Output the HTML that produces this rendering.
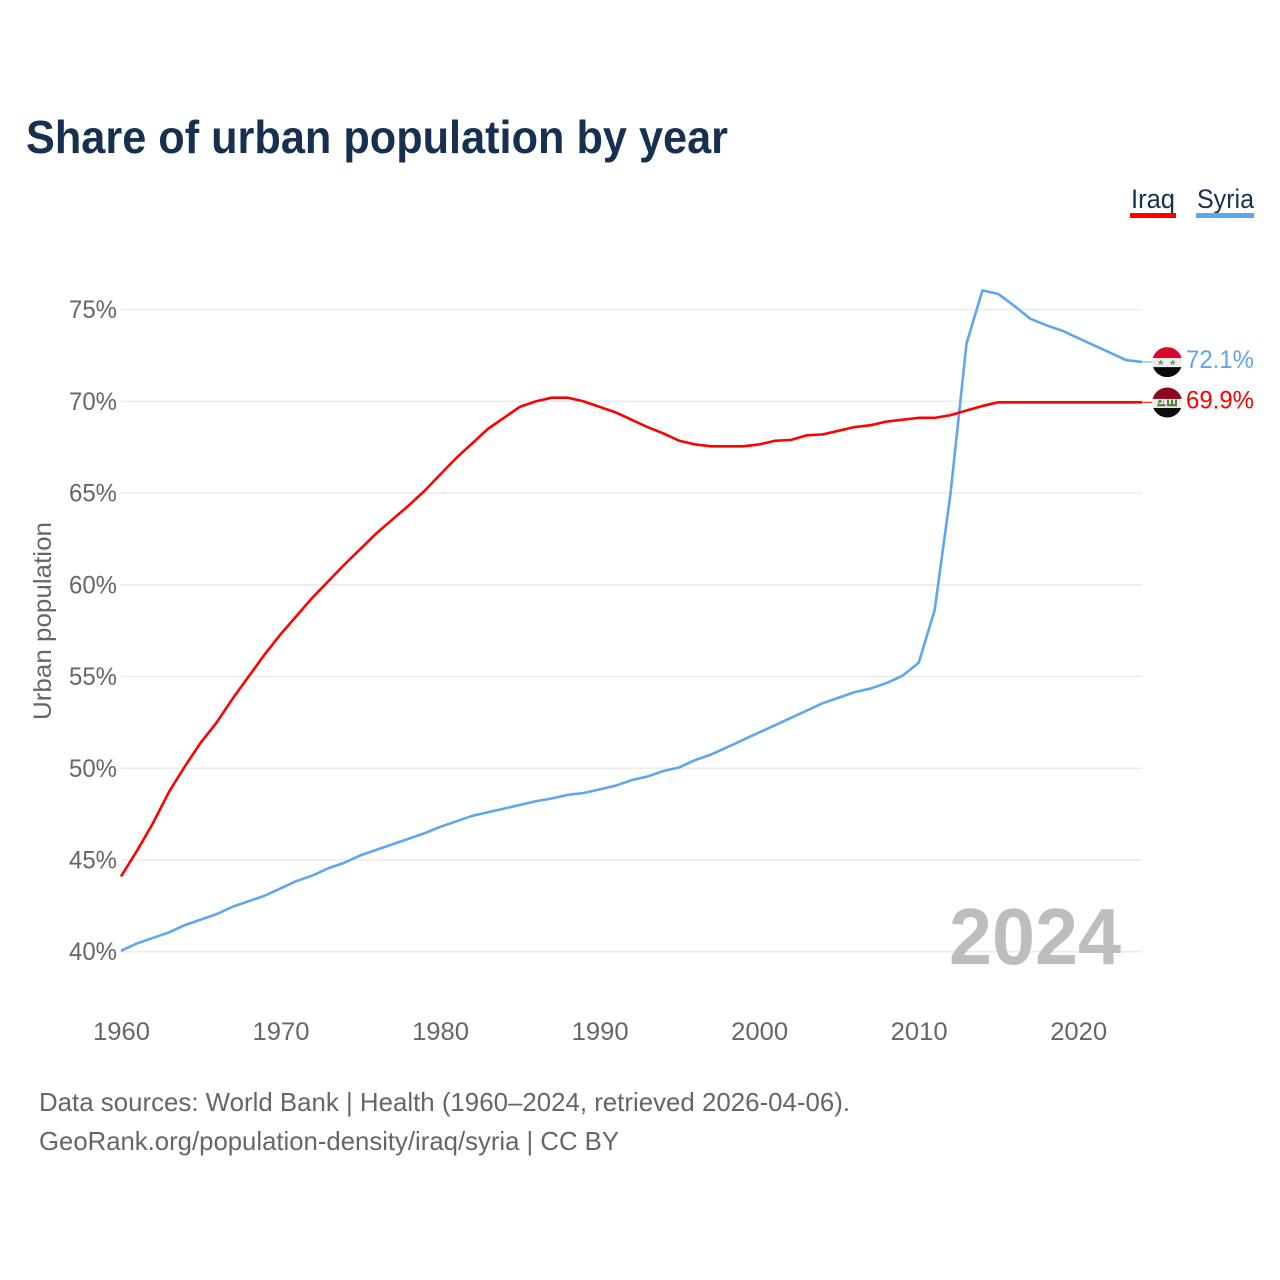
<!DOCTYPE html>
<html lang="en">
<head>
<meta charset="utf-8">
<title>Share of urban population by year</title>
<style>
html,body{margin:0;padding:0;background:#fff;}
svg{display:block;font-family:"Liberation Sans",sans-serif;}
</style>
</head>
<body>
<svg id="chart" xmlns="http://www.w3.org/2000/svg" width="1280" height="1280" viewBox="0 0 1280 1280">
  <defs>
    <clipPath id="flag-clip"><circle cx="0" cy="0" r="15"/></clipPath>
  </defs>
  <rect width="1280" height="1280" fill="#fff"/>
  <text x="26" y="153" font-size="46" font-weight="700" fill="#17304f" textLength="702" lengthAdjust="spacingAndGlyphs">Share of urban population by year</text>

  <g>
    <g>
      <text x="1131" y="208" font-size="27" fill="#17304f" textLength="44" lengthAdjust="spacingAndGlyphs">Iraq</text>
      <rect x="1130" y="213" width="46" height="5" fill="#ff0000"/>
    </g>
    <g>
      <text x="1197" y="208" font-size="27" fill="#17304f" textLength="57" lengthAdjust="spacingAndGlyphs">Syria</text>
      <rect x="1196" y="213" width="58" height="5" fill="#60a5ee"/>
    </g>
  </g>

  <g id="grid"></g>
  <g id="y-ticks"></g>
  <g id="x-ticks"></g>

  <text transform="translate(51,621) rotate(-90)" text-anchor="middle" font-size="25" fill="#666" textLength="198" lengthAdjust="spacingAndGlyphs">Urban population</text>

  <text x="949" y="964" font-size="80" font-weight="700" fill="#bdbdbd" textLength="172" lengthAdjust="spacingAndGlyphs">2024</text>

  <g id="series"></g>

  <g id="flag-syria" clip-path="url(#flag-clip)">
    <rect x="-15" y="-15" width="30" height="11" fill="#d9082b"/>
    <rect x="-15" y="-4" width="30" height="9" fill="#eeeeee"/>
    <rect x="-15" y="5" width="30" height="10" fill="#0a0a0a"/>
    <polygon points="-6.5,-3 -5.6,-0.6 -3.2,-0.6 -5.1,0.9 -4.4,3.2 -6.5,1.8 -8.6,3.2 -7.9,0.9 -9.8,-0.6 -7.4,-0.6" fill="#6f9a5c"/>
    <polygon points="5.5,-3 6.4,-0.6 8.8,-0.6 6.9,0.9 7.6,3.2 5.5,1.8 3.4,3.2 4.1,0.9 2.2,-0.6 4.6,-0.6" fill="#6f9a5c"/>
  </g>
  <g id="flag-iraq" clip-path="url(#flag-clip)">
    <rect x="-15" y="-15" width="30" height="11.5" fill="#8f0a20"/>
    <rect x="-15" y="-3.5" width="30" height="9" fill="#eeeeee"/>
    <rect x="-15" y="5.5" width="30" height="10" fill="#0a0a0a"/>
    <path d="M-10 3.5H-2V2H-8.5V0H-6V-2H-8.5M-3.5 2V-2.5M0 3.5H9.5V-2.5H8V2H5.5V-2.5H4V2H1.5V-2.5H0Z" fill="#4f7f3c" stroke="#4f7f3c" stroke-width="0.6"/>
  </g>

  <g id="end-labels"></g>

  <g>
    <text x="39" y="1111" font-size="26" fill="#666" textLength="811" lengthAdjust="spacingAndGlyphs">Data sources: World Bank | Health (1960–2024, retrieved 2026-04-06).</text>
    <text x="39" y="1150" font-size="26" fill="#666" textLength="580" lengthAdjust="spacingAndGlyphs">GeoRank.org/population-density/iraq/syria | CC BY</text>
  </g>
</svg>
<script>
const startYear = 1960;
const yTickValues = [40, 45, 50, 55, 60, 65, 70, 75];
const xTickYears = [1960, 1970, 1980, 1990, 2000, 2010, 2020];
const iraqValues = [
  44.1, 45.5, 47.0, 48.7, 50.1, 51.4, 52.5, 53.8, 55.0, 56.2,
  57.3, 58.3, 59.3, 60.2, 61.1, 61.95, 62.8, 63.55, 64.3, 65.1,
  66.0, 66.9, 67.7, 68.5, 69.1, 69.7, 70.0, 70.2, 70.2, 70.0,
  69.7, 69.4, 69.0, 68.6, 68.25, 67.85, 67.65, 67.55, 67.55, 67.55,
  67.65, 67.85, 67.9, 68.15, 68.2, 68.4, 68.6, 68.7, 68.9, 69.0,
  69.1, 69.1, 69.25, 69.5, 69.75, 69.95, 69.95, 69.95, 69.95, 69.95,
  69.95, 69.95, 69.95, 69.95, 69.95
];
const syriaValues = [
  40.05, 40.45, 40.75, 41.05, 41.45, 41.75, 42.05, 42.45, 42.75, 43.05,
  43.45, 43.85, 44.15, 44.55, 44.85, 45.25, 45.55, 45.85, 46.15, 46.45,
  46.8, 47.1, 47.4, 47.6, 47.8, 48.0, 48.2, 48.35, 48.55, 48.65,
  48.85, 49.05, 49.35, 49.55, 49.85, 50.05, 50.45, 50.75, 51.15, 51.55,
  51.95, 52.35, 52.75, 53.15, 53.55, 53.85, 54.15, 54.35, 54.65, 55.05,
  55.75, 58.6, 65.0, 73.15, 76.05, 75.85, 75.2, 74.5, 74.15, 73.85,
  73.45, 73.05, 72.65, 72.25, 72.15
];
const iraqEndLabel = "69.9%";
const syriaEndLabel = "72.1%";

const NS = "http://www.w3.org/2000/svg";
function xScale(year) { return 121 + (year - 1960) * (1021 / 64); }
function yScale(v) { return 951.7 - (v - 40) * 18.345; }
function make(tag, parent, attrs) {
  const el = document.createElementNS(NS, tag);
  for (const k in attrs) el.setAttribute(k, attrs[k]);
  parent.appendChild(el);
  return el;
}

const gridG = document.getElementById("grid");
const yG = document.getElementById("y-ticks");
yTickValues.forEach(function (v) {
  const line = make("line", gridG, { x1: 121, x2: 1142, y1: yScale(v), y2: yScale(v), stroke: "#ebebeb", "stroke-width": 1.6 });
  
  
  const t = make("text", yG, { x: 69, y: yScale(v) + 8.5, "font-size": 25, fill: "#666", textLength: 48, lengthAdjust: "spacingAndGlyphs" });
  
  
  t.textContent = v + "%";
});

const xG = document.getElementById("x-ticks");
xTickYears.forEach(function (yr) {
  const t = make("text", xG, { x: xScale(yr) - 28, y: 1040, "font-size": 25, fill: "#666", textLength: 57, lengthAdjust: "spacingAndGlyphs" });
  
  
  t.textContent = yr;
});

function linePoints(values) {
  return values.map(function (v, i) {
    return xScale(startYear + i).toFixed(2) + "," + yScale(v).toFixed(2);
  }).join(" ");
}

const seriesG = document.getElementById("series");
const syriaLine = make("polyline", seriesG, { points: linePoints(syriaValues), fill: "none", stroke: "#60a5ee", "stroke-width": 2.6, "stroke-linejoin": "round" });


const iraqLine = make("polyline", seriesG, { points: linePoints(iraqValues), fill: "none", stroke: "#ff0000", "stroke-width": 2.6, "stroke-linejoin": "round" });



const lastIraqY = yScale(iraqValues[iraqValues.length - 1]);
const lastSyriaY = yScale(syriaValues[syriaValues.length - 1]);
const xEnd = xScale(startYear + iraqValues.length - 1);

const syriaConn = make("line", seriesG, { x1: xEnd, x2: xEnd + 11, y1: lastSyriaY, y2: lastSyriaY, stroke: "#60a5ee", "stroke-width": 1 });


const iraqConn = make("line", seriesG, { x1: xEnd, x2: xEnd + 11, y1: lastIraqY, y2: lastIraqY, stroke: "#ff0000", "stroke-width": 1 });



document.getElementById("flag-syria").setAttribute("transform", "translate(" + (xEnd + 25.2) + "," + (lastSyriaY + 0.2) + ")");
document.getElementById("flag-iraq").setAttribute("transform", "translate(" + (xEnd + 25.2) + "," + (lastIraqY + 0.2) + ")");

const labelsG = document.getElementById("end-labels");
const syriaLab = make("text", labelsG, { x: xEnd + 44, y: lastSyriaY + 6, "font-size": 25, fill: "#60a5ee", textLength: 68, lengthAdjust: "spacingAndGlyphs" });


syriaLab.textContent = syriaEndLabel;
const iraqLab = make("text", labelsG, { x: xEnd + 44, y: lastIraqY + 6, "font-size": 25, fill: "#ff0000", textLength: 68, lengthAdjust: "spacingAndGlyphs" });


iraqLab.textContent = iraqEndLabel;
</script>
</body>
</html>
